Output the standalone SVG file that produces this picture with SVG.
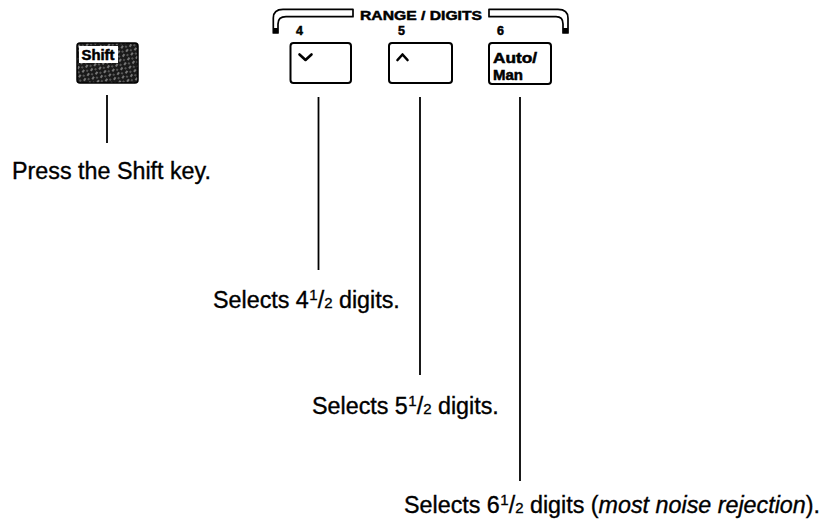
<svg xmlns="http://www.w3.org/2000/svg" width="826" height="525" viewBox="0 0 826 525">
<defs>
<style>
.lbl{font-family:"Liberation Sans",Arial,sans-serif;font-size:23.3px;fill:#000;stroke:#000;stroke-width:0.35}
.num{font-size:15px}
.key{font-family:"Liberation Sans",Arial,sans-serif;font-weight:bold;fill:#000;stroke:#000;stroke-width:0.5}
.btn{fill:#fff;stroke:#000;stroke-width:2}
.conn{stroke:#000;stroke-width:1.8;fill:none}
.brk{fill:#fff;stroke:#000;stroke-width:1.7;stroke-linejoin:round}
.chev{fill:none;stroke:#000;stroke-width:2.6;stroke-linecap:round;stroke-linejoin:round}
</style>
<pattern id="hatch" width="6" height="6" patternUnits="userSpaceOnUse" patternTransform="rotate(-55)">
<rect width="6" height="6" fill="#1a1a1a"/>
<line x1="0" y1="1" x2="3" y2="1" stroke="#fff" stroke-width="0.8"/>
<line x1="3" y1="4" x2="5" y2="4" stroke="#ddd" stroke-width="0.6"/>
</pattern>
</defs>

<g id="shift-key">
<rect x="77" y="43" width="61" height="40" rx="3" fill="url(#hatch)" stroke="#000" stroke-width="1.5"/>
<rect x="79" y="46" width="39" height="17" fill="#fff"/>
<text class="key" x="81.5" y="59.5" font-size="14" textLength="33" lengthAdjust="spacingAndGlyphs">Shift</text>
</g>

<g id="range-digits-header">
<path class="brk" d="M273.3,33 L273.3,18 Q273.3,9.3 283,9.3 L353,9.3 L353,16.7 L286,16.7 Q278,16.7 278,24 L278,33 Z"/>
<rect x="273.3" y="28" width="4.7" height="5" fill="#000"/>
<path class="brk" d="M489,9.3 L558,9.3 Q568,9.3 568,18 L568,33 L563,33 L563,24 Q563,16.7 556,16.7 L489,16.7 Z"/>
<rect x="563" y="28" width="5" height="5" fill="#000"/>
<text class="key" x="360" y="19.5" font-size="13" textLength="122" lengthAdjust="spacingAndGlyphs">RANGE / DIGITS</text>
</g>

<g id="key-down">
<text class="key" x="296" y="35" font-size="12.5">4</text>
<rect class="btn" x="290.5" y="43" width="60.5" height="40" rx="3"/>
<polyline class="chev" points="299.5,54.5 305.5,60 311.5,54.5"/>
</g>

<g id="key-up">
<text class="key" x="398" y="35" font-size="12.5">5</text>
<rect class="btn" x="389" y="43" width="63" height="40" rx="3"/>
<polyline class="chev" points="397.5,60 402.5,54.5 407.5,60"/>
</g>

<g id="key-automan">
<text class="key" x="497" y="35" font-size="12.5">6</text>
<rect class="btn" x="489" y="43" width="62" height="41" rx="3"/>
<text class="key" x="493" y="63" font-size="14" textLength="44" lengthAdjust="spacingAndGlyphs">Auto/</text>
<text class="key" x="493" y="80" font-size="14" textLength="30" lengthAdjust="spacingAndGlyphs">Man</text>
</g>

<g id="connectors">
<line class="conn" x1="107" y1="95" x2="107" y2="143"/>
<line class="conn" x1="318.5" y1="97" x2="318.5" y2="270"/>
<line class="conn" x1="420" y1="97" x2="420" y2="375"/>
<line class="conn" x1="520" y1="97" x2="520" y2="481"/>
</g>

<g id="label-shift">
<text class="lbl" x="12" y="179">Press the Shift key.</text>
</g>
<g id="label-4">
<text class="lbl" x="213" y="308">Selects 4<tspan class="num" dx="0.5" dy="-8">1</tspan><tspan dx="0" dy="8">/</tspan><tspan class="num" dx="0">2</tspan> digits.</text>
</g>
<g id="label-5">
<text class="lbl" x="312" y="414">Selects 5<tspan class="num" dx="0.5" dy="-8">1</tspan><tspan dx="0" dy="8">/</tspan><tspan class="num" dx="0">2</tspan> digits.</text>
</g>
<g id="label-6">
<text class="lbl" x="404" y="513">Selects 6<tspan class="num" dx="0.5" dy="-8">1</tspan><tspan dx="0" dy="8">/</tspan><tspan class="num" dx="0">2</tspan> digits (<tspan font-style="italic">most noise rejection</tspan>).</text>
</g>
</svg>
